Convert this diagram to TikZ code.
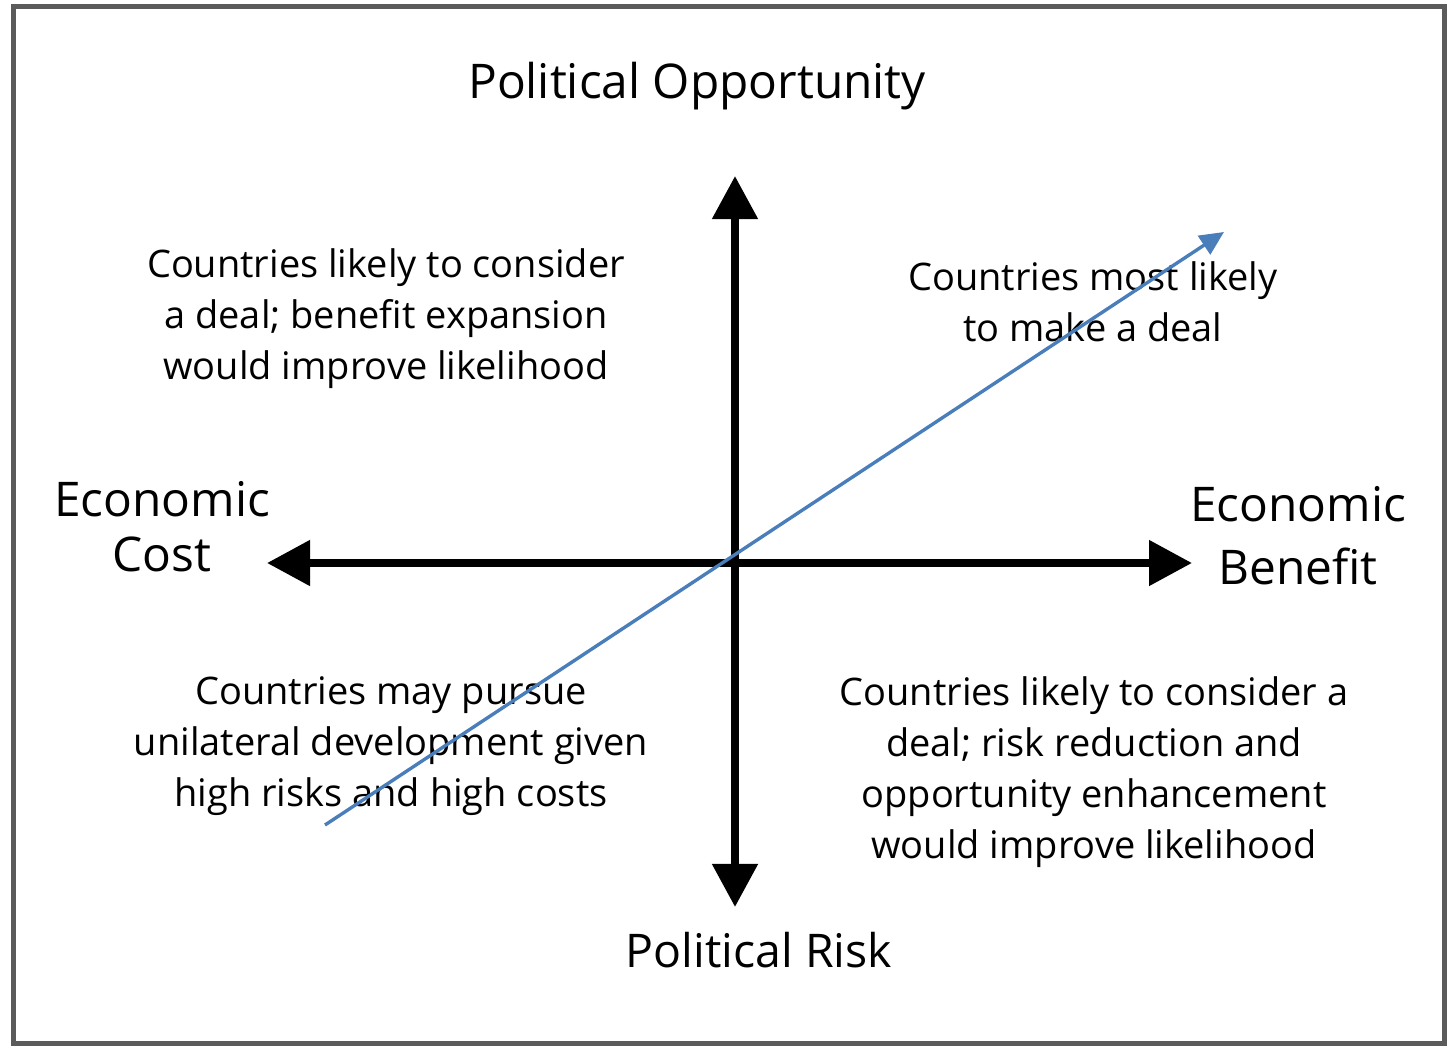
\documentclass[tikz,border=0pt]{standalone}
\usepackage{fontspec}
\setmainfont{Open Sans}
\usetikzlibrary{arrows.meta}

\definecolor{framegray}{HTML}{5B5B5B}
\definecolor{trendblue}{HTML}{4A7EBB}

\tikzset{
  axis/.style={line width=5.7pt, -{Triangle[length=10.75mm, width=11mm]}},
  trend/.style={line width=2.4pt, trendblue, -{Triangle[length=6mm, width=5.5mm]}},
  axislabel/.style={font=\fontsize{34pt}{39pt}\selectfont, align=center, inner sep=0pt},
  quadtext/.style={font=\fontsize{27pt}{36.3pt}\selectfont, align=center, inner sep=0pt}
}

\begin{document}
\begin{tikzpicture}[x=0.025cm, y=-0.025cm]
% Page size and frame
\useasboundingbox (0,0) rectangle (1448,1046);
\draw[framegray, line width=3.6pt] (13.5,6.5) rectangle (1444.5,1043.5);

% Axis end points
\coordinate (top) at (735,176);
\coordinate (bottom) at (735,907);
\coordinate (left) at (267,563);
\coordinate (right) at (1192,563);
\coordinate (center) at (735,563);

% Draw the axes
\draw[axis] (center) -- (top);
\draw[axis] (center) -- (bottom);
\draw[axis] (center) -- (left);
\draw[axis] (center) -- (right);

% Axis labels
\node[axislabel, anchor=base] (opp) at (697,98) {Political Opportunity};
\node[axislabel, anchor=base, font=\fontsize{33pt}{39pt}\selectfont] (risk) at (759,967) {Political Risk};
\node[axislabel, anchor=north] (cost) at (162,481) {Economic\\Cost};
\node[axislabel, anchor=north, font=\fontsize{34pt}{44.8pt}\selectfont] (benefit) at (1298,486) {Economic\\Benefit};

% Quadrant texts
\node[quadtext, anchor=north] (ul) at (386,248.5) {Countries likely to consider\\a deal; benefit expansion\\would improve likelihood};
\node[quadtext, anchor=north] (ur) at (1093,261.5) {Countries most likely\\to make a deal};
\node[quadtext, anchor=north] (ll) at (391,676.5) {Countries may pursue\\unilateral development given\\high risks and high costs};
\node[quadtext, anchor=north] (lr) at (1094,676.5) {Countries likely to consider a\\deal; risk reduction and\\opportunity enhancement\\would improve likelihood};

% Trend line
\coordinate (start) at (325,825);
\coordinate (end) at (1224,232);
\draw[trend] (start) -- (end);
\end{tikzpicture}
\end{document}
